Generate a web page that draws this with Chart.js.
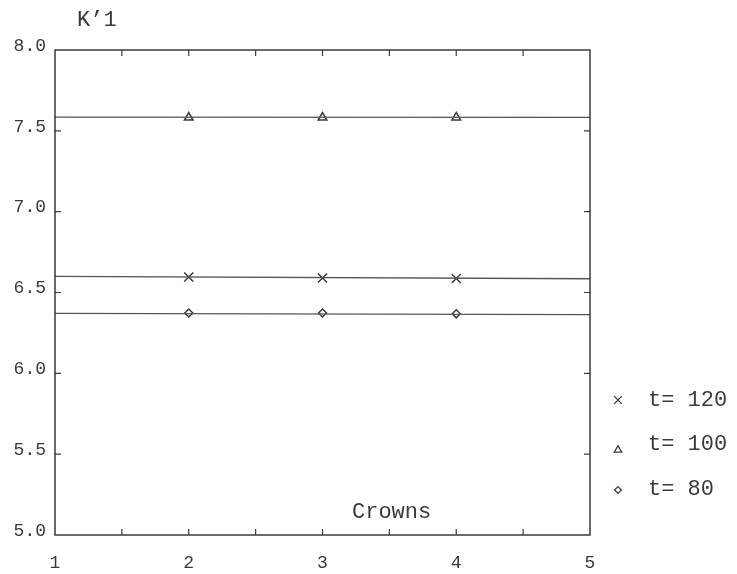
<!DOCTYPE html>
<html>
<head>
<meta charset="utf-8">
<title>K'1 vs Crowns</title>
<script src="https://cdn.jsdelivr.net/npm/chart.js@4.4.1/dist/chart.umd.min.js"></script>
<style>
  html, body { margin: 0; padding: 0; background: #fff; }
  #wrap { width: 737px; height: 574px; position: relative; }
</style>
</head>
<body>
<div id="wrap"><canvas id="chart"></canvas></div>
<script>
// data
const crowns = [2, 3, 4]
const k1T120 = [6.596, 6.590, 6.587]
const k1T100 = [7.582, 7.582, 7.583]
const k1T80 = [6.373, 6.373, 6.368]

// fitted lines, drawn across the whole x range
const fitX = [1, 5]
const fitT120 = [6.600, 6.585]
const fitT100 = [7.585, 7.583]
const fitT80 = [6.371, 6.363]

const seriesLabels = ["t= 120", "t= 100", "t= 80"]
const xTitle = "Crowns"
const yTitle = "K\u20191"

const ink = "#3a3a3a"
const monoFont = '"Liberation Mono", "DejaVu Sans Mono", monospace'

const toPoints = (xs, ys) => xs.map((x, i) => ({ x, y: ys[i] }))

function markerSet(label, values, style, radius) {
  return {
    label,
    data: toPoints(crowns, values),
    showLine: false,
    pointStyle: style,
    pointRadius: radius,
    pointBorderWidth: 1.5,
    pointBorderColor: ink,
    pointBackgroundColor: "#fff",
    isMarker: true
  }
}

function fitLine(values) {
  return {
    data: toPoints(fitX, values),
    showLine: true,
    pointRadius: 0,
    borderColor: "#555",
    borderWidth: 1.3,
    fill: false
  }
}

// frame, inward ticks, titles and legend
const framePlugin = {
  id: "frameTicks",
  afterDatasetsDraw(chart) {
    const { ctx, chartArea: a, scales: { x, y } } = chart
    const tick = 6
    ctx.save()
    ctx.strokeStyle = ink
    ctx.lineWidth = 1.5
    ctx.strokeRect(a.left, a.top, a.right - a.left, a.bottom - a.top)

    ctx.lineWidth = 1.2
    ctx.beginPath()
    for (let v = x.min + 0.5; v < x.max; v += 0.5) {
      const px = x.getPixelForValue(v)
      ctx.moveTo(px, a.bottom); ctx.lineTo(px, a.bottom - tick)
      ctx.moveTo(px, a.top); ctx.lineTo(px, a.top + tick)
    }
    for (let v = y.min + 0.5; v < y.max; v += 0.5) {
      const py = y.getPixelForValue(v)
      ctx.moveTo(a.left, py); ctx.lineTo(a.left + tick, py)
      ctx.moveTo(a.right, py); ctx.lineTo(a.right - tick, py)
    }
    ctx.stroke()

    ctx.fillStyle = ink
    ctx.font = "22px " + monoFont
    ctx.textBaseline = "middle"
    ctx.textAlign = "left"
    ctx.fillText(yTitle, 77, 20)
    ctx.fillText(xTitle, 352, 512)

    // legend
    const markers = chart.data.datasets.filter(d => d.isMarker)
    const rowY = [400, 444, 489]
    const markY = [400, 450, 490]
    markers.forEach((d, i) => {
      ctx.fillStyle = "#fff"
      ctx.strokeStyle = ink
      ctx.lineWidth = 1.3
      Chart.helpers.drawPoint(ctx, {
        pointStyle: d.pointStyle,
        radius: d.pointRadius * 0.85,
        rotation: 0,
        borderWidth: 1.3
      }, 618, markY[i])
      ctx.fillStyle = ink
      ctx.fillText(d.label, 648, rowY[i])
    })
    ctx.restore()
  }
}

new Chart(document.getElementById("chart"), {
  type: "scatter",
  data: {
    datasets: [
      fitLine(fitT120),
      fitLine(fitT100),
      fitLine(fitT80),
      markerSet(seriesLabels[0], k1T120, "crossRot", 6.4),
      markerSet(seriesLabels[1], k1T100, "triangle", 5),
      markerSet(seriesLabels[2], k1T80, "rectRot", 4)
    ]
  },
  options: {
    responsive: true,
    maintainAspectRatio: false,
    animation: false,
    layout: { padding: { top: 50, right: 147, left: 0, bottom: 0 } },
    plugins: {
      legend: { display: false },
      tooltip: { enabled: false }
    },
    scales: {
      x: {
        type: "linear",
        min: 1,
        max: 5,
        grid: { display: false, drawTicks: false },
        border: { display: false },
        ticks: {
          stepSize: 1,
          padding: 17,
          color: ink,
          font: { family: monoFont, size: 18 }
        },
        afterFit: s => { s.height = 39 }
      },
      y: {
        min: 5,
        max: 8,
        grid: { display: false, drawTicks: false },
        border: { display: false },
        ticks: {
          stepSize: 0.5,
          padding: 9,
          labelOffset: -4,
          color: ink,
          font: { family: monoFont, size: 18 },
          callback: v => v.toFixed(1)
        },
        afterFit: s => { s.width = 55 }
      }
    }
  },
  plugins: [framePlugin]
})
</script>
</body>
</html>
